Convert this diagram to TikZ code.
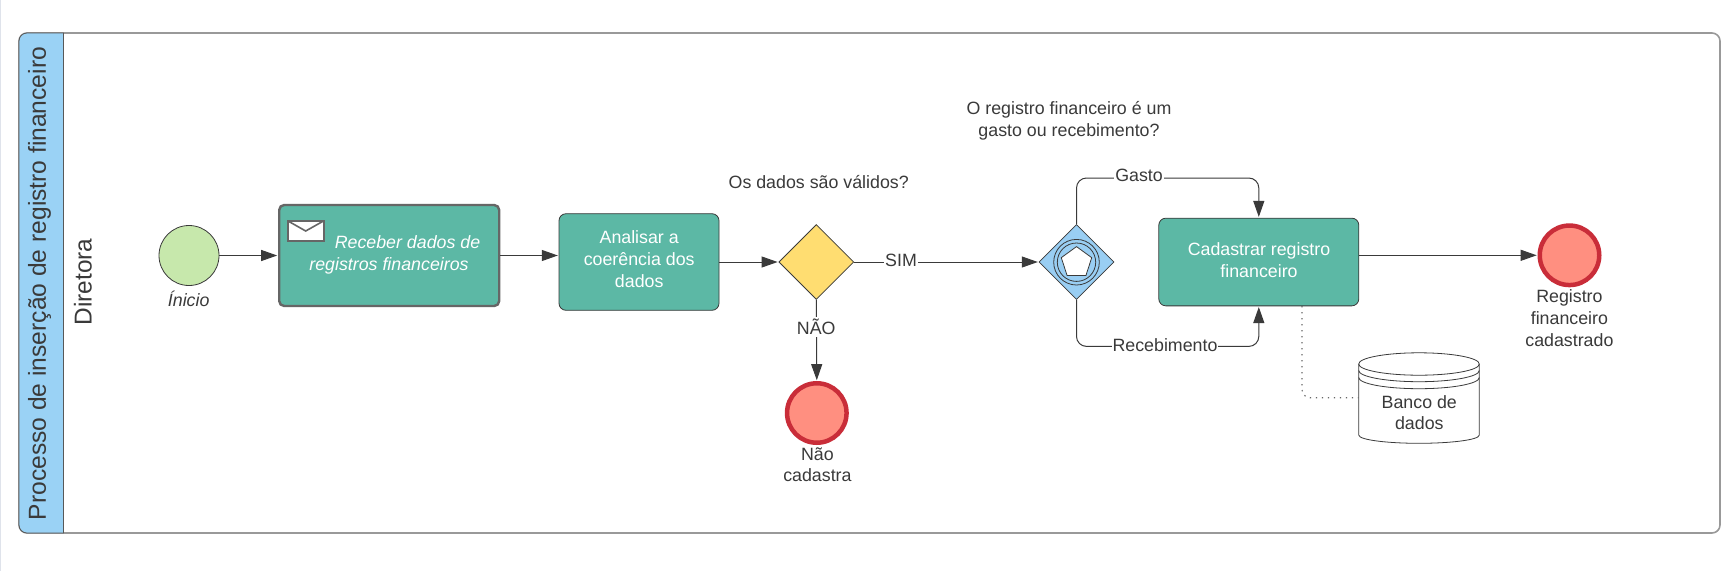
\documentclass[tikz,border=0pt]{standalone}
\usepackage{fontspec}
\setmainfont{Liberation Sans}
\usetikzlibrary{arrows.meta,shapes.geometric,calc}
\definecolor{laneblue}{HTML}{9AD2F5}
\definecolor{gwblue}{HTML}{99CEF3}
\definecolor{taskgreen}{HTML}{5CB8A5}
\definecolor{startgreen}{HTML}{C7E8AC}
\definecolor{gwyellow}{HTML}{FFDD71}
\definecolor{endred}{HTML}{FF8F80}
\definecolor{endborder}{HTML}{C92D39}
\definecolor{ink}{HTML}{3A3A3A}
\definecolor{bordergrey}{HTML}{999999}
\definecolor{taskborder}{HTML}{666666}
\definecolor{pageedge}{HTML}{DFE3EB}
\newcommand{\fs}{\fontsize{17.8}{21.7}\selectfont}
\tikzset{
  x=1pt,y=-1pt,
  lbl/.style={text=ink,font=\fs,align=center,inner sep=0pt},
  lblw/.style={lbl,fill=white,inner xsep=1pt,inner ysep=1pt},
  task/.style={draw=ink,line width=.8pt,fill=taskgreen,rounded corners=7pt,minimum width=200pt,inner sep=0pt},
  tasktext/.style={text=white,font=\fs,align=center,inner sep=0pt},
  endev/.style={circle,draw=endborder,line width=4.5pt,fill=endred,minimum size=59.5pt,inner sep=0pt},
  gw/.style={diamond,draw=ink,line width=.8pt,minimum width=75pt,minimum height=75pt,inner sep=0pt,aspect=1},
  flow/.style={draw=ink,line width=1pt,-{Triangle[length=16pt,width=11pt]},shorten >=.8pt},
}
\begin{document}
\begin{tikzpicture}
\useasboundingbox (0,0) rectangle (1735,571);
% page edge
\draw[color=pageedge,line width=1.4pt] (.7,0) -- (.7,571);
% lane
\path[fill=white,draw=bordergrey,line width=1.6pt,rounded corners=8pt] (19,33) rectangle (1720,533);
\path[fill=laneblue,draw=ink!85,line width=.8pt] (63.5,33) -- (27,33) arc[start angle=270,end angle=180,radius=8] -- (19,525) arc[start angle=180,end angle=90,radius=8] -- (63.5,533) -- cycle;
\node[rotate=90,text=ink,font=\fontsize{24.6}{28}\selectfont,inner sep=0pt] (pool) at (39.5,283.5) {Processo de inserção de registro financeiro};
\node[rotate=90,text=ink,font=\fontsize{24.4}{28}\selectfont,inner sep=0pt] (lane) at (83,282) {Diretora};
% start
\node[circle,draw=ink,line width=.8pt,fill=startgreen,minimum size=60pt,inner sep=0pt] (start) at (189,255.5) {};
\node[lbl,font=\itshape\fs] (startl) at (188.7,298.7) {Ínicio};
% task 1
\node[draw=taskborder,line width=2.4pt,fill=taskgreen,rounded corners=5pt,minimum width=220pt,minimum height=101pt,inner sep=0pt] (t1) at (389.2,255.5) {};
\node[text=white,font=\itshape\fs,inner sep=0pt,anchor=base] (t1a) at (407.5,248) {Receber dados de};
\node[text=white,font=\itshape\fs,inner sep=0pt,anchor=base] (t1b) at (389,270) {registros financeiros};
\draw[taskborder,line width=2pt,fill=white] (288,221) rectangle (323.5,241);
\draw[taskborder,line width=1.6pt] (288,221) -- (305.7,231) -- (323.5,221);
% task 2
\node[task,minimum width=160pt,minimum height=96.6pt] (t2) at (639,262) {};
\node[tasktext] (t2l) at (639.2,259.3) {Analisar a\\coerência dos\\dados};
% gateway 1
\node[gw,fill=gwyellow] (g1) at (816.3,262) {};
\node[lbl] (g1l) at (818.7,182) {Os dados são válidos?};
% end 1
\node[endev] (e1) at (816.8,413) {};
\node[lbl] (e1l) at (817.4,464.7) {Não\\cadastra};
% gateway 2
\node[gw,fill=gwblue] (g2) at (1076.5,262) {};
\node[circle,draw=ink,line width=.8pt,minimum size=45.6pt,inner sep=0pt] (g2o) at (1076.5,262.2) {};
\node[circle,draw=ink,line width=.8pt,minimum size=38.4pt,inner sep=0pt] (g2i) at (1076.5,262.2) {};
\node[regular polygon,regular polygon sides=5,draw=ink,line width=.8pt,fill=white,minimum size=32pt,inner sep=0pt] (g2p) at (1076.5,262.6) {};
\node[lbl] (g2l) at (1069,121) {O registro financeiro é um\\gasto ou recebimento?};
% task 3
\node[task,minimum height=87.7pt] (t3) at (1258.8,262) {};
\node[tasktext] (t3l) at (1259,260.3) {Cadastrar registro\\financeiro};
% end 2
\node[endev] (e2) at (1569.5,255.3) {};
\node[lbl] (e2l) at (1569.4,318) {Registro\\financeiro\\cadastrado};
% database
\path[draw=ink,line width=.8pt,fill=white] (1358.7,364) arc[start angle=180,end angle=360,x radius=60.3,y radius=11.2] -- (1479.3,435) .. controls (1479.3,440) and (1450,443.3) .. (1419,443.3) .. controls (1388,443.3) and (1358.7,440) .. (1358.7,435) -- cycle;
\draw[ink,line width=.8pt] (1358.7,364) arc[start angle=180,end angle=0,x radius=60.3,y radius=11.2];
\draw[ink,line width=.8pt] (1358.7,370.5) arc[start angle=180,end angle=0,x radius=60.3,y radius=11.2];
\draw[ink,line width=.8pt] (1358.7,377.5) arc[start angle=180,end angle=0,x radius=60.3,y radius=11.2];
\node[lbl] (dbl) at (1419.3,412.5) {Banco de\\dados};
\coordinate (dbw) at (1358.7,397.7);
% connectors
\draw[flow] (start.east) -- (t1.west);
\draw[flow] (t1.east) -- (t1.east -| t2.west);
\draw[flow] (t2.east) -- (g1.west);
\draw[flow] (g1.east) -- (g2.west);
\node[lblw] (siml) at (901,260) {SIM};
\draw[flow] (g1.south) -- (e1.north);
\node[lblw,inner ysep=2pt] (naol) at (816.2,327) {NÃO};
\coordinate (gt) at (1076.5,178);
\coordinate (gb) at (1076.5,346.4);
\draw[flow,rounded corners=10pt] (g2.north) -- (gt) -- (gt -| t3.north) -- (t3.north);
\node[lblw] (gl) at (1139,175.7) {Gasto};
\draw[flow,rounded corners=10pt] (g2.south) -- (gb) -- (gb -| t3.south) -- (t3.south);
\node[lblw] (rl) at (1165,344.7) {Recebimento};
\draw[flow] (t3.east |- e2.west) -- (e2.west);
\coordinate (dd) at (1302,306);
\draw[taskborder,line width=1.1pt,rounded corners=8pt,dash pattern=on 1.4pt off 4.6pt] (dd) -- (dd |- dbw) -- (dbw);
\end{tikzpicture}
\end{document}
